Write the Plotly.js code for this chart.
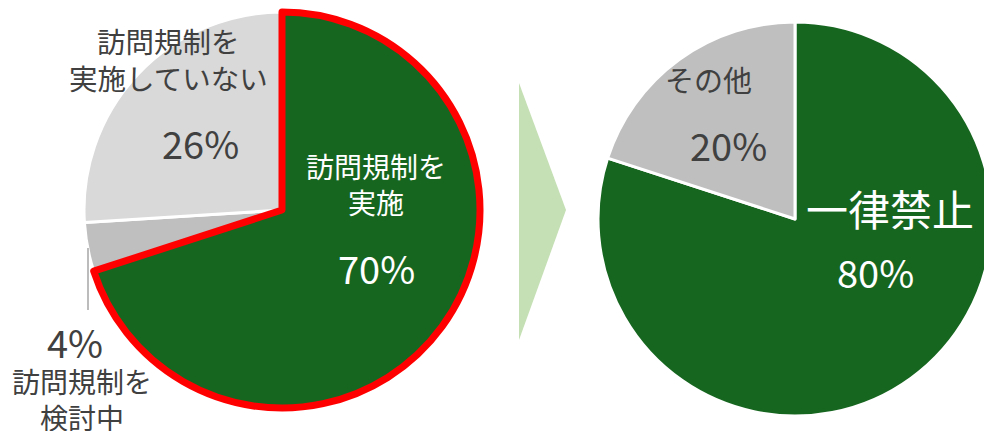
<!DOCTYPE html>
<html><head><meta charset="utf-8">
<script src="https://cdn.plot.ly/plotly-3.0.1.min.js"></script>
<style>html,body{margin:0;padding:0;overflow:hidden;background:#fff}#chart{width:1000px;height:431px}</style>
</head><body><div id="chart"></div>
<script>
// Data
const leftLabels = ["訪問規制を実施", "訪問規制を検討中", "訪問規制を実施していない"];
const leftValues = [70, 4, 26];
const leftColors = ["#176620", "#BFBFBF", "#D9D9D9"];
const rightLabels = ["一律禁止", "その他"];
const rightValues = [80, 20];
const rightColors = ["#176620", "#BFBFBF"];

const W = 1000, H = 431;
const px = x => x / W;
const py = y => 1 - y / H;
const FONT = "Noto Sans CJK JP, Noto Sans, sans-serif";
const dark = "#404040";

const traces = [
  {type: "pie", labels: leftLabels, values: leftValues, sort: false, direction: "clockwise", rotation: 0,
   marker: {colors: leftColors, line: {color: "#FFFFFF", width: 3}},
   textinfo: "none", hoverinfo: "label+percent", showlegend: false,
   domain: {x: [px(84), px(480)], y: [py(408), py(12)]}},
  {type: "pie", labels: leftLabels, values: leftValues, sort: false, direction: "clockwise", rotation: 0,
   marker: {colors: ["rgba(0,0,0,0)", "rgba(0,0,0,0)", "rgba(0,0,0,0)"],
            line: {color: ["#FF0000", "rgba(0,0,0,0)", "rgba(0,0,0,0)"], width: [7, 0, 0]}},
   textinfo: "none", hoverinfo: "skip", showlegend: false,
   domain: {x: [px(84), px(480)], y: [py(408), py(12)]}},
  {type: "pie", labels: rightLabels, values: rightValues, sort: false, direction: "clockwise", rotation: 0,
   marker: {colors: rightColors, line: {color: "#FFFFFF", width: 3}},
   textinfo: "none", hoverinfo: "label+percent", showlegend: false,
   domain: {x: [px(598), px(992)], y: [py(416), py(22)]}}
];

function ann(x, y, text, size, color) {
  return {xref: "paper", yref: "paper", x: px(x), y: py(y), xanchor: "center", yanchor: "middle",
          text: text, showarrow: false, borderpad: 0, font: {family: FONT, size: size, color: color}};
}
const pct = v => v + "%";
// split a label into two display lines at a given character index
const wrap = (s, n) => s.slice(0, n) + "<br>" + s.slice(n);

const annotations = [
  ann(376, 184, wrap(leftLabels[0], 5), 28, "#FFFFFF"),
  ann(376, 267, pct(leftValues[0]), 38, "#FFFFFF"),
  ann(168, 59.5, wrap(leftLabels[2], 5), 28.5, dark),
  ann(200, 142, pct(leftValues[2]), 38, dark),
  ann(75, 341, pct(leftValues[1]), 38, dark),
  ann(82, 399, wrap(leftLabels[1], 5), 28, dark),
  ann(708, 79, rightLabels[1], 29, dark),
  ann(728, 144, pct(rightValues[1]), 38, dark),
  ann(890, 207, rightLabels[0], 42, "#FFFFFF"),
  ann(875, 271, pct(rightValues[0]), 38, "#FFFFFF")
];

const shapes = [
  {type: "path", xref: "paper", yref: "paper",
   path: `M ${px(519)} ${py(83)} L ${px(566)} ${py(210)} L ${px(519)} ${py(340)} Z`,
   fillcolor: "#C5E0B4", line: {width: 0}, layer: "below"},
  {type: "line", xref: "paper", yref: "paper", x0: px(88), x1: px(88), y0: py(248), y1: py(310),
   line: {color: "#A6A6A6", width: 1.5}}
];

Plotly.newPlot("chart", traces, {
  width: W, height: H, margin: {l: 0, r: 0, t: 0, b: 0},
  paper_bgcolor: "#FFFFFF", plot_bgcolor: "#FFFFFF",
  annotations: annotations, shapes: shapes, showlegend: false
}, {displayModeBar: false, staticPlot: true});
</script></body></html>
